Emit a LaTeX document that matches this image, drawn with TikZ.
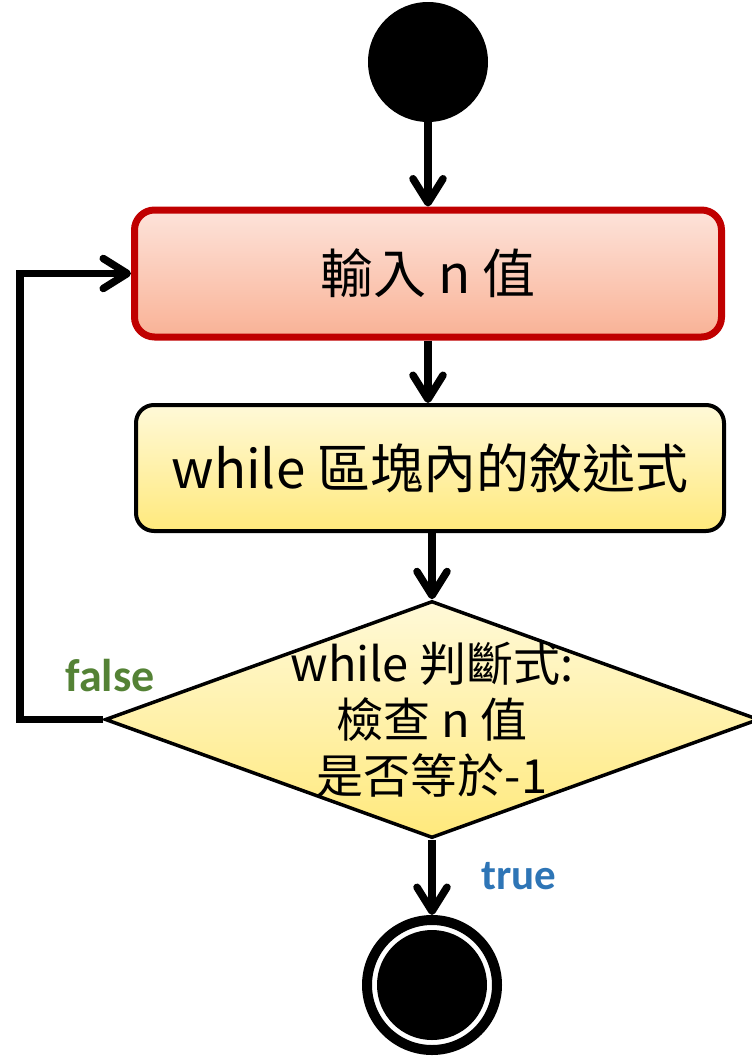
\documentclass[tikz,border=0pt]{standalone}
\usepackage{fontspec}
\setmainfont{Noto Sans CJK TC}
\newfontfamily\labfont{Carlito}
\usetikzlibrary{shapes.geometric,arrows.meta}
\definecolor{redline}{HTML}{C00000}
\definecolor{redtop}{HTML}{FDE3DA}
\definecolor{redbot}{HTML}{F9B296}
\definecolor{yeltop}{HTML}{FFF9D8}
\definecolor{yelbot}{HTML}{FFE97C}
\definecolor{falsecol}{HTML}{548235}
\definecolor{truecol}{HTML}{2E75B6}
\tikzset{
  arr/.style={line width=7.5pt, -{Straight Barb[length=24pt,width=30pt,round]}},
  redbox/.style={draw=redline, line width=7pt, rounded corners=20pt, top color=redtop, bottom color=redbot,
     minimum width=587pt, minimum height=127pt, inner sep=0pt, font=\fontsize{53}{60}\selectfont},
  yelbox/.style={draw=black, line width=4pt, rounded corners=18pt, top color=yeltop, bottom color=yelbot,
     minimum width=588pt, minimum height=126pt, inner sep=0pt, font=\fontsize{53}{62}\selectfont},
  dia/.style={diamond, draw=black, line width=3.5pt, top color=yeltop, bottom color=yelbot,
     minimum width=654pt, minimum height=237pt, inner sep=0pt},
  diatext/.style={align=center, font=\fontsize{47}{56}\selectfont, inner sep=0pt},
  startdot/.style={circle, fill=black, minimum size=120pt, inner sep=0pt},
  enddot/.style={circle, draw=black, line width=10pt, fill=white, minimum size=130pt, inner sep=0pt},
  enddisk/.style={circle, fill=black, minimum size=110pt, inner sep=0pt},
  falselab/.style={font=\labfont\bfseries\fontsize{46}{54}\selectfont, inner sep=0pt, text=falsecol},
  truelab/.style={font=\labfont\bfseries\fontsize{43}{50}\selectfont, inner sep=0pt, text=truecol}
}
\begin{document}
\begin{tikzpicture}[x=1pt,y=-1pt]
\useasboundingbox (0,0) rectangle (752,1058);
\node[startdot] (s) at (428,62) {};
\node[redbox] (r) at (428,273.5) {輸入 n 值};
\node[yelbox] (y) at (430,468) {while 區塊內的敘述式};
\node[dia] (d) at (432,719.5) {};
\node[diatext] (dt) at (432,720) {while 判斷式:\\檢查 n 值\\是否等於-1};
\node[enddot] (e) at (432,985) {};
\node[enddisk] (e2) at (e) {};
\coordinate (c1) at (20,719.5);
\coordinate (c2) at (20,273.5);
\draw[arr] (s.south) -- (r.north);
\draw[arr] (r.south) -- (r.south |- y.north);
\draw[arr] (y.south -| d.north) -- (d.north);
\draw[arr] (d.south) -- (e.north);
\draw[arr] (d.west) -- (c1) -- (c2) -- (r.west);
\node[falselab] (f) at (110,676) {false};
\node[truelab] (t) at (519,876) {true};
\end{tikzpicture}
\end{document}
